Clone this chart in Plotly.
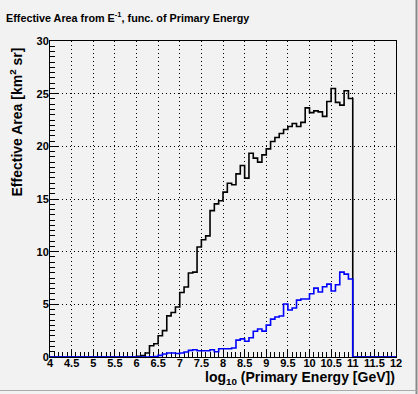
import numpy as np
import plotly.graph_objects as go

# ---- data -------------------------------------------------------------
BIN_LOW = 4.0
BIN_WIDTH = 0.1
N_BINS = 80

# Effective area (km^2 sr), black histogram, bins 4.0 .. 11.9
black_vals = [0.0] * 20 + [
    0.06, 0.13, 0.38, 1.07, 1.26, 2.02, 2.50, 3.90, 4.23, 4.74,      # 6.0-6.9
    6.13, 6.64, 7.97, 8.06, 10.44, 11.13, 11.50, 13.90, 14.54, 14.83, # 7.0-7.9
    15.65, 16.50, 16.35, 17.39, 18.18, 16.98, 19.35, 18.88, 18.50, 19.19,  # 8.0-8.9
    19.76, 20.46, 20.84, 21.22, 21.60, 21.89, 22.17, 21.89, 22.27, 23.65,  # 9.0-9.9
    23.20, 23.37, 23.27, 22.84, 24.26, 25.49, 24.17, 23.91, 25.27, 24.54,  # 10.0-10.9
] + [0.0] * 10

# blue histogram
blue_vals = [0.0] * 23 + [
    0.03, 0.05, 0.15, 0.28, 0.38, 0.38, 0.33,                          # 6.3-6.9
    0.38, 0.47, 0.63, 0.69, 0.60, 0.60, 0.60, 0.69, 0.50, 0.79,        # 7.0-7.9
    0.79, 0.79, 0.85, 1.60, 1.72, 1.50, 1.83, 2.44, 2.66, 2.46,        # 8.0-8.9
    3.03, 3.60, 3.80, 3.89, 5.03, 4.46, 4.65, 5.40, 5.50, 5.50,        # 9.0-9.9
    6.00, 6.54, 6.17, 6.67, 6.92, 6.26, 6.86, 8.06, 7.87, 7.40,        # 10.0-10.9
] + [0.0] * 10

x_ticks = [4 + 0.5 * k for k in range(17)]
y_ticks = [0, 5, 10, 15, 20, 25, 30]

TITLE = "Effective Area from E<sup>-1</sup>, func. of Primary Energy"
X_TITLE = "log<sub>10</sub> (Primary Energy [GeV])"
Y_TITLE = "Effective Area [km<sup>2</sup> sr]"

# ---- build ------------------------------------------------------------
edges = BIN_LOW + BIN_WIDTH * np.arange(N_BINS + 1)


def step_xy(vals):
    xs = list(edges)
    ys = list(vals) + [vals[-1]]
    return xs, ys


BG = "#f2f2f2"
FONT = "Liberation Sans, Arial, sans-serif"

fig = go.Figure()
bx, by = step_xy(black_vals)
fig.add_trace(go.Scatter(x=bx, y=by, mode="lines", line=dict(shape="hv", color="black", width=1.6),
                         hoverinfo="skip", showlegend=False))
ux, uy = step_xy(blue_vals)
fig.add_trace(go.Scatter(x=ux, y=uy, mode="lines", line=dict(shape="hv", color="#0000ff", width=1.6),
                         hoverinfo="skip", showlegend=False))

axis_common = dict(
    showline=True, linecolor="black", linewidth=1, mirror=True,
    ticks="inside", tickcolor="black", tickwidth=1,
    showgrid=True, gridcolor="black", gridwidth=1, griddash="1px,3px",
    zeroline=False,
    tickfont=dict(family=FONT, size=11, color="black", weight="bold"),
    layer="below traces",
)

fig.update_layout(
    width=418, height=394,
    margin=dict(l=50, r=22, t=41, b=37),
    paper_bgcolor=BG, plot_bgcolor=BG,
    showlegend=False,
    xaxis=dict(range=[4, 12], tickvals=x_ticks, ticklen=8, ticklabelstandoff=-4,
               minor=dict(ticks="inside", ticklen=5, dtick=0.1, tick0=4, tickcolor="black", showgrid=False),
               **axis_common),
    yaxis=dict(range=[0, 30], tickvals=y_ticks, ticklen=9, ticklabelstandoff=-2,
               minor=dict(ticks="inside", ticklen=4.5, dtick=0.5, tick0=0, tickcolor="black", showgrid=False),
               **axis_common),
)

# titles
fig.add_annotation(text=TITLE, xref="paper", yref="paper", x=(4 - 50) / 346, y=(357 - 8) / 316,
                   xanchor="left", yanchor="top", showarrow=False,
                   font=dict(family=FONT, size=10.8, color="black", weight="bold"))
fig.add_annotation(text=X_TITLE, xref="paper", yref="paper", x=(397 - 50) / 346, y=(357 - 367) / 316,
                   xanchor="right", yanchor="top", showarrow=False,
                   font=dict(family=FONT, size=14, color="black", weight="bold"))
fig.add_annotation(text=Y_TITLE, xref="paper", yref="paper", x=(16 - 50) / 346, y=(357 - 46) / 316,
                   xanchor="center", yanchor="top", textangle=-90, showarrow=False,
                   font=dict(family=FONT, size=14, color="black", weight="bold"))

# canvas bevel border
def px_x(p):
    return (p - 50) / 346


def px_y(p):
    return (357 - p) / 316


fig.add_shape(type="line", xref="paper", yref="paper", x0=px_x(416.5), x1=px_x(416.5), y0=px_y(0), y1=px_y(394),
              line=dict(color="#888888", width=2))
fig.add_shape(type="line", xref="paper", yref="paper", x0=px_x(0), x1=px_x(418), y0=px_y(390.5), y1=px_y(390.5),
              line=dict(color="#aaaaaa", width=1))

fig.write_html("out.html", config={"displayModeBar": False},
               post_script="document.body.style.margin='0';document.body.style.overflow='hidden';")
